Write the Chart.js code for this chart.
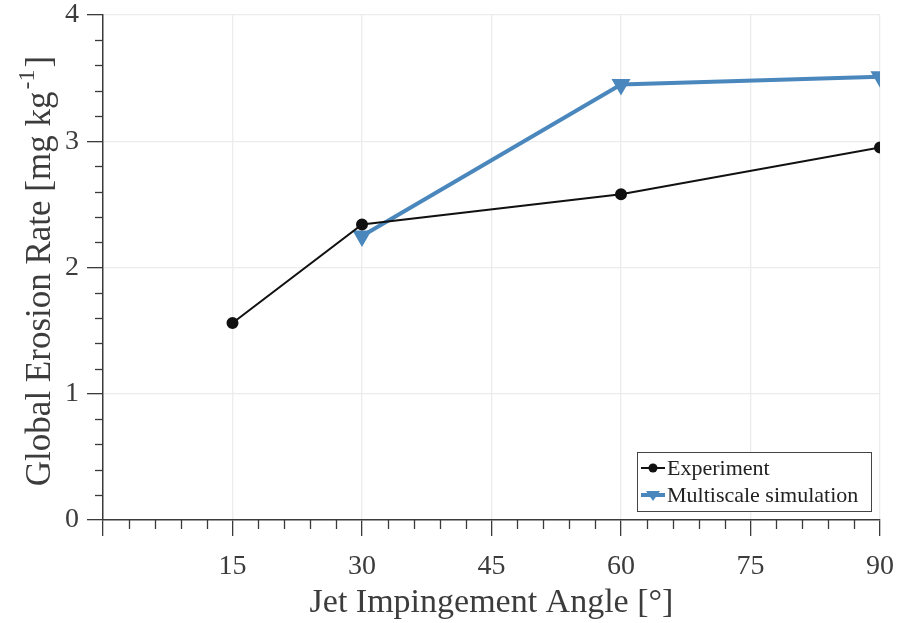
<!DOCTYPE html>
<html>
<head>
<meta charset="utf-8">
<script src="https://cdn.jsdelivr.net/npm/chart.js@4.4.0/dist/chart.umd.min.js"></script>
<style>
html,body{margin:0;padding:0;background:#fff;}
#wrap{width:908px;height:623px;position:relative;}
</style>
</head>
<body>
<div id="wrap"><canvas id="c" width="908" height="623"></canvas></div>
<script>
const angles = [15, 30, 60, 90];
const experiment = [1.56, 2.34, 2.58, 2.95];
const simAngles = [30, 60, 90];
const simulation = [2.25, 3.45, 3.51];
const xTicks = [0, 15, 30, 45, 60, 75, 90];
const yTicks = [0, 1, 2, 3, 4];
const xTitle = 'Jet Impingement Angle [°]';
const yTitleMain = 'Global Erosion Rate [mg kg';
const yTitleSup = '-1';
const yTitleEnd = ']';
const seriesNames = ['Experiment', 'Multiscale simulation'];

const SERIF = '"Liberation Serif", "Times New Roman", serif';
const AXIS = '#3a3a3a';
const GRID = '#ececec';
const BLUE = '#4a87bd';
const TEXT = '#3c3c3c';

const minorTicks = {
  id: 'minorTicks',
  afterDraw(chart) {
    const ctx = chart.ctx, a = chart.chartArea;
    const xs = chart.scales.x, ys = chart.scales.y;
    ctx.save();
    ctx.strokeStyle = AXIS;
    ctx.lineWidth = 1.3;
    for (let v = 3; v < 90; v += 3) {
      if (v % 15 === 0) continue;
      const px = Math.round(xs.getPixelForValue(v)) + 0.5;
      ctx.beginPath(); ctx.moveTo(px, a.bottom); ctx.lineTo(px, a.bottom + 9); ctx.stroke();
    }
    for (let i = 1; i < 20; i++) {
      if (i % 5 === 0) continue;
      const py = Math.round(ys.getPixelForValue(i * 0.2)) + 0.5;
      ctx.beginPath(); ctx.moveTo(a.left - 8, py); ctx.lineTo(a.left, py); ctx.stroke();
    }
    // y title with superscript
    ctx.translate(50, 271);
    ctx.rotate(-Math.PI / 2);
    ctx.fillStyle = TEXT;
    ctx.textBaseline = 'alphabetic';
    const big = '35px ' + SERIF, small = '24px ' + SERIF;
    ctx.font = big;
    const w1 = ctx.measureText(yTitleMain).width;
    ctx.font = small;
    const w2 = ctx.measureText(yTitleSup).width;
    ctx.font = big;
    const w3 = ctx.measureText(yTitleEnd).width;
    let x0 = -(w1 + w2 + w3 + 4) / 2;
    ctx.textAlign = 'left';
    ctx.fillText(yTitleMain, x0, 0);
    ctx.font = small;
    ctx.fillText(yTitleSup, x0 + w1 + 2, -16);
    ctx.font = big;
    ctx.fillText(yTitleEnd, x0 + w1 + w2 + 4, 0);
    ctx.restore();
  }
};

const legendBox = {
  id: 'legendBox',
  afterDraw(chart) {
    const ctx = chart.ctx;
    const bx = 637, by = 452, bw = 234, bh = 59;
    ctx.save();
    ctx.fillStyle = '#fff';
    ctx.fillRect(bx, by, bw, bh);
    ctx.strokeStyle = '#444';
    ctx.lineWidth = 1;
    ctx.strokeRect(bx + 0.5, by + 0.5, bw, bh);
    ctx.font = '22px ' + SERIF;
    ctx.textBaseline = 'middle';
    const rows = [by + 16, by + 43];
    chart.data.datasets.forEach((ds, i) => {
      const y = rows[i];
      ctx.strokeStyle = ds.borderColor;
      ctx.lineWidth = ds.borderWidth;
      ctx.beginPath(); ctx.moveTo(bx + 4, y); ctx.lineTo(bx + 28, y); ctx.stroke();
      ctx.fillStyle = ds.pointBackgroundColor;
      if (i === 0) {
        ctx.beginPath(); ctx.arc(bx + 16, y, 4.5, 0, Math.PI * 2); ctx.fill();
      } else {
        ctx.beginPath(); ctx.moveTo(bx + 9, y - 4); ctx.lineTo(bx + 23, y - 4); ctx.lineTo(bx + 16, y + 6); ctx.closePath(); ctx.fill();
      }
      ctx.fillStyle = '#222';
      ctx.fillText(ds.label, bx + 30, y + 1);
    });
    ctx.restore();
  }
};

new Chart(document.getElementById('c'), {
  type: 'line',
  data: {
    datasets: [
      {
        label: seriesNames[0],
        data: angles.map((a, i) => ({x: a, y: experiment[i]})),
        borderColor: '#111',
        backgroundColor: '#111',
        pointBackgroundColor: '#111',
        pointBorderColor: '#111',
        borderWidth: 2,
        pointRadius: 5,
        pointStyle: 'circle',
        tension: 0
      },
      {
        label: seriesNames[1],
        data: simAngles.map((a, i) => ({x: a, y: simulation[i]})),
        borderColor: BLUE,
        backgroundColor: BLUE,
        pointBackgroundColor: BLUE,
        pointBorderColor: BLUE,
        borderWidth: 4,
        pointRadius: 7,
        pointStyle: 'triangle',
        rotation: 180,
        tension: 0
      }
    ]
  },
  options: {
    responsive: false,
    animation: false,
    layout: {padding: {top: 15, right: 28, left: 0, bottom: 0}},
    plugins: {legend: {display: false}, tooltip: {enabled: false}},
    scales: {
      x: {
        type: 'linear', min: 0, max: 90,
        afterBuildTicks: s => { s.ticks = xTicks.map(v => ({value: v})); },
        afterFit: s => { s.height = 103; s.paddingLeft = 0; s.paddingRight = 0; },
        ticks: {
          callback: v => v === 0 ? '' : String(v),
          font: {family: SERIF, size: 28},
          color: TEXT,
          padding: 14,
          maxRotation: 0
        },
        grid: {color: ctx => (ctx.tick && ctx.tick.value === 0) ? 'rgba(0,0,0,0)' : GRID, tickColor: AXIS, tickLength: 16, lineWidth: 1.3, drawOnChartArea: true},
        border: {color: AXIS, width: 1.5},
        title: {display: true, text: xTitle, font: {family: SERIF, size: 34}, color: TEXT, padding: {top: 0, bottom: 0}}
      },
      y: {
        type: 'linear', min: 0, max: 4,
        afterBuildTicks: s => { s.ticks = yTicks.map(v => ({value: v})); },
        afterFit: s => { s.width = 103; s.paddingTop = 0; s.paddingBottom = 0; },
        ticks: {
          font: {family: SERIF, size: 28},
          color: TEXT,
          padding: 8
        },
        grid: {color: ctx => (ctx.tick && ctx.tick.value === 0) ? 'rgba(0,0,0,0)' : GRID, tickColor: AXIS, tickLength: 16, lineWidth: 1.3},
        border: {color: AXIS, width: 1.5}
      }
    }
  },
  plugins: [minorTicks, legendBox]
});
</script>
</body>
</html>
